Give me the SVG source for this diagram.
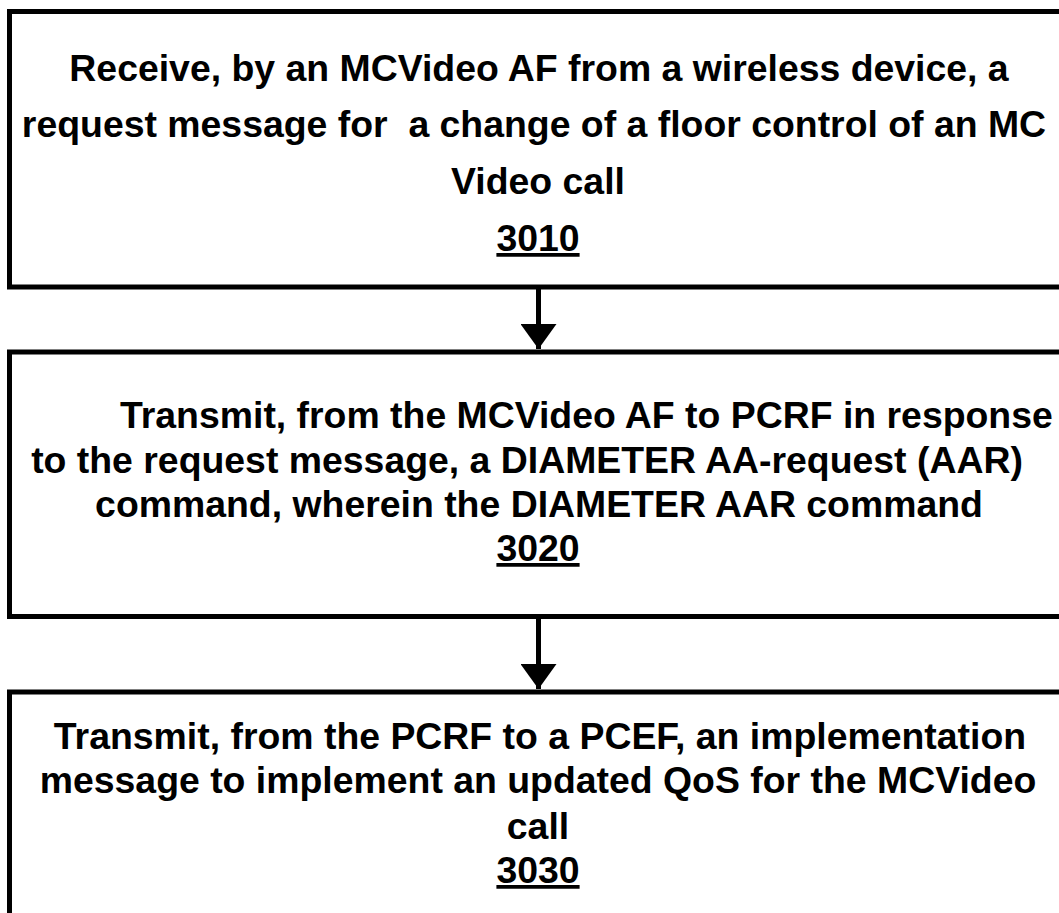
<svg xmlns="http://www.w3.org/2000/svg" width="1059" height="913" viewBox="0 0 1059 913">
  <style>
    .box { fill: #ffffff; stroke: #000000; stroke-width: 5; }
    .lbl { font-family: "Liberation Sans", Arial, Helvetica, sans-serif; font-weight: bold; font-size: 37.4px; fill: #000000; }
    .mid { text-anchor: middle; }
    .ref { text-decoration: underline; }
    .wire { stroke: #000000; stroke-width: 5; fill: none; }
  </style>
  <defs>
    <marker id="head" viewBox="0 0 25 36" refX="25" refY="18" markerWidth="25" markerHeight="36" markerUnits="userSpaceOnUse" orient="auto">
      <path d="M0,0 L25,18 L0,36 Z" fill="#000000"/>
    </marker>
  </defs>
  <rect width="1059" height="913" fill="#ffffff"/>

  <g id="step-3010">
    <rect class="box" x="9.5" y="11.5" width="1070" height="275.5"/>
    <text class="lbl mid" x="539" y="81">Receive, by an MCVideo AF from a wireless device, a</text>
    <text class="lbl mid" x="534" y="137" xml:space="preserve">request message for  a change of a floor control of an MC</text>
    <text class="lbl mid" x="538" y="194">Video call</text>
    <text class="lbl mid ref" x="538" y="251">3010</text>
  </g>

  <g id="step-3020">
    <rect class="box" x="9.5" y="352" width="1070" height="264.5"/>
    <text class="lbl" x="120" y="428">Transmit, from the MCVideo AF to PCRF in response</text>
    <text class="lbl mid" x="527" y="473">to the request message, a DIAMETER AA-request (AAR)</text>
    <text class="lbl mid" x="539" y="517">command, wherein the DIAMETER AAR command</text>
    <text class="lbl mid ref" x="538" y="561">3020</text>
  </g>

  <g id="step-3030">
    <rect class="box" x="9.5" y="692" width="1070" height="260"/>
    <text class="lbl mid" x="540" y="749">Transmit, from the PCRF to a PCEF, an implementation</text>
    <text class="lbl mid" x="538" y="793">message to implement an updated QoS for the MCVideo</text>
    <text class="lbl mid" x="538" y="839">call</text>
    <text class="lbl mid ref" x="538" y="883">3030</text>
  </g>

  <g id="connectors">
    <line class="wire" x1="538.5" y1="289" x2="538.5" y2="349" marker-end="url(#head)"/>
    <line class="wire" x1="538.5" y1="618" x2="538.5" y2="689" marker-end="url(#head)"/>
  </g>
</svg>
